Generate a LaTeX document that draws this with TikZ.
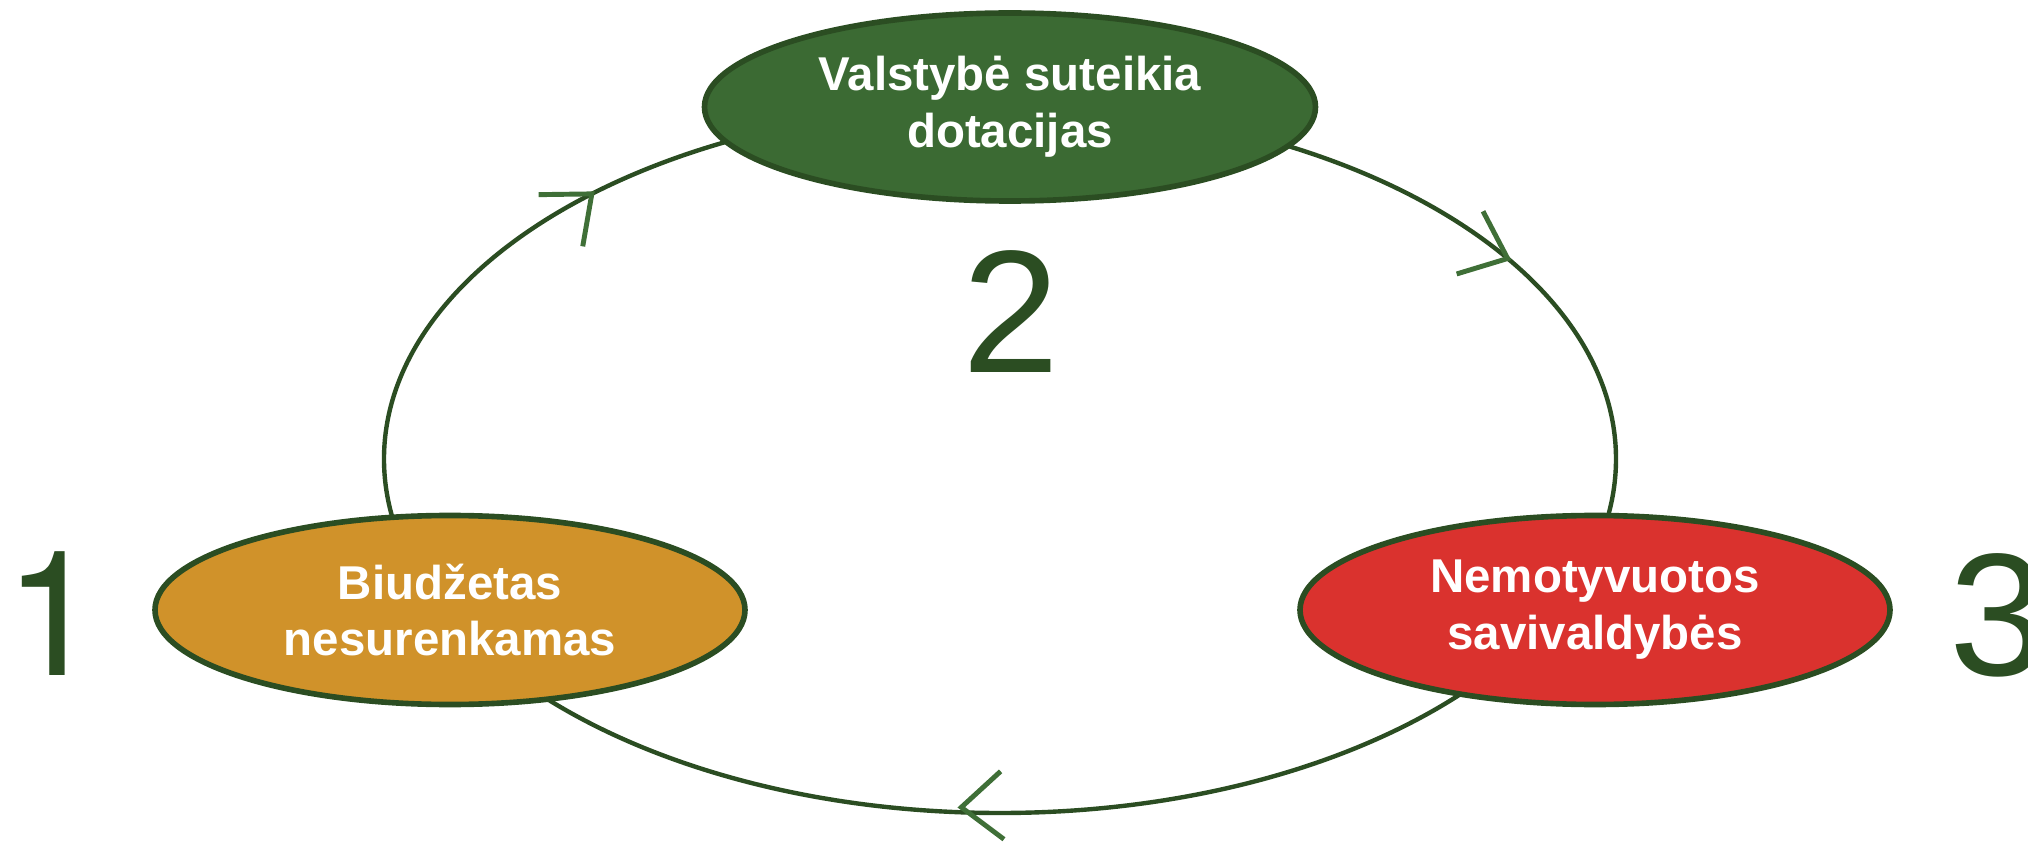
\documentclass[tikz,border=0pt]{standalone}
\usepackage{fontspec}
\setmainfont{Liberation Sans}
\newfontfamily\onefont{TeX Gyre Heros}
\usetikzlibrary{shapes.geometric,positioning}
\definecolor{linegreen}{HTML}{2B4D22}
\definecolor{topgreen}{HTML}{3B6A33}
\definecolor{budorange}{HTML}{D0922A}
\definecolor{munired}{HTML}{DA322E}
\definecolor{chevgreen}{HTML}{3F6F37}

\begin{document}
\begin{tikzpicture}[
    stage/.style={ellipse, draw=linegreen, line width=1.6pt, text=white, inner sep=0pt,
                  minimum width=5.9cm, minimum height=1.89cm, align=center,
                  font=\fontsize{13.5}{16.2}\selectfont\bfseries},
    num/.style={text=linegreen, inner sep=0pt, anchor=base,
                font=\fontsize{49.7}{50}\selectfont},
    chevron/.style={draw=chevgreen, line width=1.4pt},
    chev/.pic={\draw[chevron] (-0.41,0.34) -- (0,0) -- (-0.41,-0.34);}
  ]
  \useasboundingbox (0,0) rectangle (20.28,8.45);
  \coordinate (ctr) at (10,3.86);
  \draw[linegreen, line width=1.25pt] (ctr) ellipse [x radius=6.16, y radius=3.54];

  \node[stage, fill=budorange] (budget) at (4.50,2.35) {Biudžetas\\nesurenkamas};
  \node[stage, fill=topgreen, minimum width=6.11cm, minimum height=1.88cm]
        (grant) at (10.10,7.38) {Valstybė suteikia\\dotacijas};
  \node[stage, fill=munired] (munic) at (15.95,2.35) {Nemotyvuotos\\savivaldybės};

  \node[num] (n1) at (0.53,1.70) {\onefont 1};
  \node[num] (n2) at (10.11,4.73) {2};
  \node[num] (n3) at (19.98,1.70) {3};

  % arrow marks on the cycle
  \path (ctr) ++(131.5:6.16 and 3.54) coordinate (a1)
        (ctr) ++(34.5:6.16 and 3.54) coordinate (a2)
        (ctr) ++(266.4:6.16 and 3.54) coordinate (a3);
  \pic[rotate=40.5] at (a1) {chev};
  \pic[rotate=-22.8] at (a2) {chev};
  \pic[rotate=182.8] at ([yshift=0.05cm]a3) {chev};
\end{tikzpicture}
\end{document}
